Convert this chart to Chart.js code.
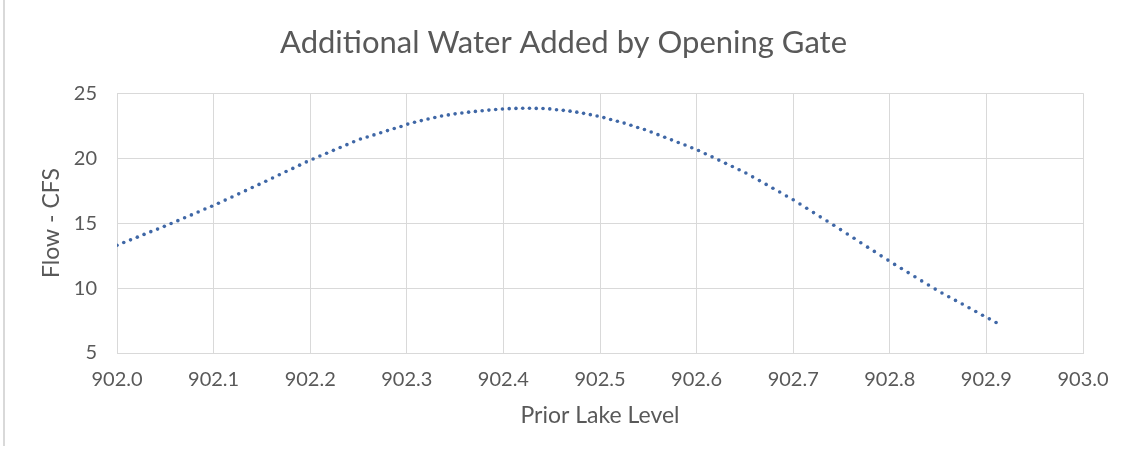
<!DOCTYPE html>
<html>
<head>
<meta charset="utf-8">
<script src="https://cdn.jsdelivr.net/npm/chart.js@4"></script>
<style>
  html, body { margin: 0; padding: 0; background: #fff; }
  #wrap { position: relative; width: 1127px; height: 461px; }
  #frame { position: absolute; left: 3px; top: 0; height: 446px; border-left: 2px solid #d9d9d9; }
</style>
</head>
<body>
<div id="wrap">
  <canvas id="grafico" width="1127" height="461"></canvas>
  <div id="frame"></div>
</div>
<script>
// Prior lake level (ft)
const nivelLago = [
  902.000, 902.007, 902.014, 902.021, 902.028, 902.035, 902.042, 902.049, 902.056, 902.063,
  902.070, 902.077, 902.084, 902.091, 902.098, 902.105, 902.112, 902.119, 902.126, 902.133,
  902.140, 902.147, 902.154, 902.161, 902.168, 902.175, 902.182, 902.189, 902.196, 902.203,
  902.210, 902.217, 902.224, 902.231, 902.238, 902.245, 902.252, 902.259, 902.266, 902.273,
  902.280, 902.287, 902.294, 902.301, 902.308, 902.315, 902.322, 902.329, 902.336, 902.343,
  902.350, 902.357, 902.364, 902.371, 902.378, 902.385, 902.392, 902.399, 902.406, 902.413,
  902.420, 902.427, 902.434, 902.441, 902.448, 902.455, 902.462, 902.469, 902.476, 902.483,
  902.490, 902.497, 902.504, 902.511, 902.518, 902.525, 902.532, 902.539, 902.546, 902.553,
  902.560, 902.567, 902.574, 902.581, 902.588, 902.595, 902.602, 902.609, 902.616, 902.623,
  902.630, 902.637, 902.644, 902.651, 902.658, 902.665, 902.672, 902.679, 902.686, 902.693,
  902.700, 902.707, 902.714, 902.721, 902.728, 902.735, 902.742, 902.749, 902.756, 902.763,
  902.770, 902.777, 902.784, 902.791, 902.798, 902.805, 902.812, 902.819, 902.826, 902.833,
  902.840, 902.847, 902.854, 902.861, 902.868, 902.875, 902.882, 902.889, 902.896, 902.903,
  902.910
];

// Flow (CFS)
const caudal = [
  13.30, 13.51, 13.71, 13.92, 14.13, 14.34, 14.54, 14.75, 14.97, 15.19,
  15.41, 15.63, 15.85, 16.08, 16.30, 16.53, 16.77, 17.01, 17.25, 17.50,
  17.74, 17.98, 18.22, 18.47, 18.72, 18.97, 19.21, 19.46, 19.71, 19.94,
  20.16, 20.38, 20.60, 20.82, 21.04, 21.26, 21.47, 21.63, 21.79, 21.95,
  22.12, 22.28, 22.44, 22.62, 22.76, 22.89, 23.01, 23.13, 23.24, 23.33,
  23.41, 23.48, 23.54, 23.60, 23.65, 23.70, 23.74, 23.78, 23.81, 23.83,
  23.84, 23.84, 23.83, 23.82, 23.79, 23.73, 23.68, 23.62, 23.54, 23.45,
  23.35, 23.25, 23.12, 22.98, 22.84, 22.70, 22.53, 22.36, 22.20, 22.01,
  21.81, 21.61, 21.41, 21.21, 21.01, 20.80, 20.59, 20.34, 20.10, 19.85,
  19.60, 19.36, 19.11, 18.86, 18.56, 18.27, 17.98, 17.68, 17.39, 17.09,
  16.80, 16.47, 16.14, 15.81, 15.48, 15.16, 14.83, 14.50, 14.16, 13.83,
  13.49, 13.15, 12.82, 12.48, 12.15, 11.82, 11.51, 11.19, 10.87, 10.55,
  10.23, 9.92, 9.62, 9.33, 9.05, 8.77, 8.48, 8.20, 7.91, 7.63,
  7.35
];

const ejeX = { min: 902, max: 903, paso: 0.1 };
const ejeY = { min: 5, max: 25, paso: 5 };

const textoGris = '#595959';
const lineaGris = '#d9d9d9';
const fuente = 'Lato, "Open Sans", sans-serif';

const puntos = nivelLago.map((x, i) => ({ x: x, y: caudal[i] }));

const ctx = document.getElementById('grafico').getContext('2d');
new Chart(ctx, {
    type: 'scatter',
    data: {
        datasets: [{
            data: puntos,
            pointRadius: 1.8,
            pointBorderWidth: 0,
            pointBackgroundColor: '#3f67a6',
            showLine: false
        }]
    },
    options: {
        responsive: false,
        animation: false,
        layout: {
            padding: 0
        },
        plugins: {
            legend: { display: false },
            tooltip: { enabled: false },
            title: {
                display: true,
                text: 'Additional Water Added by Opening Gate',
                color: textoGris,
                font: { family: fuente, size: 31, weight: 'normal' },
                padding: { top: 24, bottom: 32 }
            }
        },
        scales: {
            x: {
                type: 'linear',
                min: ejeX.min,
                max: ejeX.max,
                afterFit: (scale) => { scale.height = 108; },
                ticks: {
                    stepSize: ejeX.paso,
                    maxRotation: 0,
                    autoSkip: false,
                    padding: 15,
                    color: textoGris,
                    font: { family: fuente, size: 20 },
                    callback: (v) => Number(v).toFixed(1)
                },
                grid: { color: lineaGris, drawTicks: false },
                border: { color: lineaGris },
                title: {
                    display: true,
                    text: 'Prior Lake Level',
                    color: textoGris,
                    font: { family: fuente, size: 23 },
                    padding: { top: 0, bottom: 32 }
                }
            },
            y: {
                min: ejeY.min,
                max: ejeY.max,
                afterFit: (scale) => { scale.width = 117; },
                ticks: {
                    stepSize: ejeY.paso,
                    padding: 20,
                    color: textoGris,
                    font: { family: fuente, size: 20 }
                },
                grid: { color: lineaGris, drawTicks: false },
                border: { color: lineaGris },
                title: {
                    display: true,
                    text: 'Flow - CFS',
                    color: textoGris,
                    font: { family: fuente, size: 23 },
                    padding: { top: 38, bottom: 0 }
                }
            },
            // empty strip on the right so the title stays centred on the page
            margenDerecho: {
                type: 'linear',
                position: 'right',
                afterFit: (scale) => { scale.width = 44; },
                ticks: { display: false },
                grid: { display: false },
                border: { display: false }
            }
        }
    }
});
</script>
</body>
</html>
